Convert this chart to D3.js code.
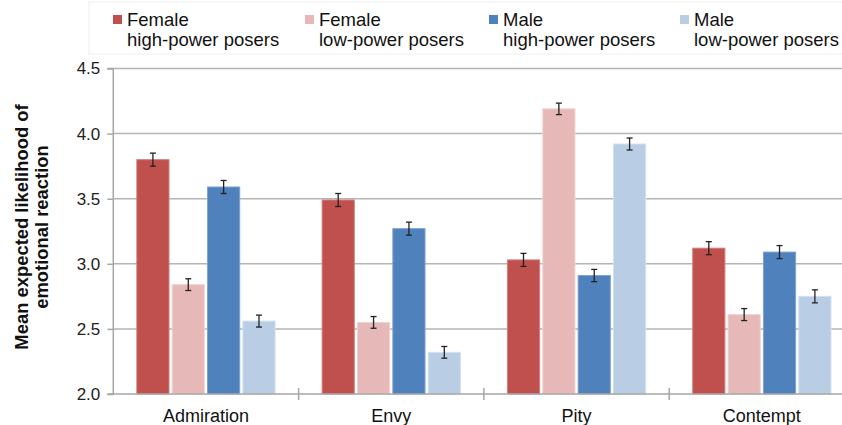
<!DOCTYPE html>
<html>
<head>
<meta charset="utf-8">
<script src="https://cdn.jsdelivr.net/npm/d3@7"></script>
<style>
  html, body { margin: 0; padding: 0; background: #fff; }
  svg { display: block; font-family: "Liberation Sans", Arial, sans-serif; }
</style>
</head>
<body>
<svg id="chart" width="842" height="425"></svg>
<script>
// ---- Data ----
const categories = ["Admiration", "Envy", "Pity", "Contempt"];
const seriesNames = ["Female high-power posers", "Female low-power posers", "Male high-power posers", "Male low-power posers"];
const legendLine1 = ["Female", "Female", "Male", "Male"];
const legendLine2 = ["high-power posers", "low-power posers", "high-power posers", "low-power posers"];
const femaleHigh = [3.80, 3.49, 3.03, 3.12];
const femaleLow  = [2.84, 2.55, 4.19, 2.61];
const maleHigh   = [3.59, 3.27, 2.91, 3.09];
const maleLow    = [2.56, 2.32, 3.92, 2.75];
const femaleHighErr = [0.05, 0.05, 0.05, 0.05];
const femaleLowErr  = [0.045, 0.045, 0.044, 0.046];
const maleHighErr   = [0.05, 0.05, 0.047, 0.05];
const maleLowErr    = [0.046, 0.045, 0.046, 0.05];
const yTicks = [2.0, 2.5, 3.0, 3.5, 4.0, 4.5];
const colors = ["#C0504D", "#E6B9B8", "#4F81BD", "#B9CDE5"];
const strokeColors = ["#d27f7c", "#f0d3d2", "#7ea3cf", "#d3e0ef"];

const values = [femaleHigh, femaleLow, maleHigh, maleLow];
const errors = [femaleHighErr, femaleLowErr, maleHighErr, maleLowErr];

(function () {
// ---- Layout ----
const svg = d3.select("#chart");
const left = 113.3, catW = 185.3;
const plotTop = 68.5, plotBottom = 394;

const x0 = d3.scaleBand().domain(categories).range([left, left + catW * categories.length]).padding(0);
const x1 = d3.scaleBand().domain(d3.range(seriesNames.length)).range([0, x0.bandwidth()])
  .paddingInner(0.09).paddingOuter(0.665);
const y = d3.scaleLinear().domain([2, 4.5]).range([plotBottom, plotTop]);

// gridlines
svg.append("g").selectAll("line").data(yTicks.filter(d => d > 2)).join("line")
  .attr("x1", left).attr("x2", 842)
  .attr("y1", d => y(d)).attr("y2", d => y(d))
  .attr("stroke", "#b5b5b5").attr("stroke-width", 1.5);

// Y axis
const yAxis = d3.axisLeft(y).tickValues(yTicks).tickFormat(d3.format(".1f")).tickSize(6).tickPadding(7);
const gy = svg.append("g").attr("transform", `translate(${left},0)`).call(yAxis);
gy.select(".domain").attr("stroke", "#a6a6a6").attr("stroke-width", 1.5).attr("d", `M-6,${plotTop}H0V${plotBottom}H-6`);
gy.selectAll(".tick line").attr("stroke", "#a6a6a6").attr("stroke-width", 1.5);
gy.selectAll(".tick text").attr("font-size", 17).attr("fill", "#222")
  .attr("font-family", "'Liberation Sans', Arial, sans-serif");

// bars
const groups = svg.append("g").selectAll("g").data(categories).join("g")
  .attr("transform", d => `translate(${x0(d)},0)`);

groups.each(function(cat, ci) {
  const g = d3.select(this);
  seriesNames.forEach((s, si) => {
    const v = values[si][ci];
    g.append("rect")
      .attr("x", x1(si)).attr("width", x1.bandwidth())
      .attr("y", y(v)).attr("height", y(2) - y(v))
      .attr("fill", colors[si]).attr("stroke", strokeColors[si]).attr("stroke-width", 1);
  });
  seriesNames.forEach((s, si) => {
    const v = values[si][ci], e = errors[si][ci];
    const cx = x1(si) + x1.bandwidth() / 2;
    const eg = g.append("g").attr("stroke", "#222").attr("stroke-width", 1.3);
    eg.append("line").attr("x1", cx).attr("x2", cx).attr("y1", y(v + e)).attr("y2", y(v - e));
    eg.append("line").attr("x1", cx - 3).attr("x2", cx + 3).attr("y1", y(v + e)).attr("y2", y(v + e));
    eg.append("line").attr("x1", cx - 3).attr("x2", cx + 3).attr("y1", y(v - e)).attr("y2", y(v - e));
  });
});

// X axis
const xAxis = d3.axisBottom(x0).tickSize(0).tickPadding(15);
const gx = svg.append("g").attr("transform", `translate(0,${plotBottom})`).call(xAxis);
gx.select(".domain").attr("stroke", "#a6a6a6").attr("stroke-width", 1.5).attr("d", `M${left},0H842`);
gx.selectAll(".tick text").attr("font-size", 18).attr("fill", "#111")
  .attr("font-family", "'Liberation Sans', Arial, sans-serif");
// category separators
svg.append("g").selectAll("line").data(categories.slice(1)).join("line")
  .attr("x1", d => x0(d)).attr("x2", d => x0(d))
  .attr("y1", plotBottom - 6).attr("y2", plotBottom + 6)
  .attr("stroke", "#a6a6a6").attr("stroke-width", 1.5);

// Y title
const yt = svg.append("text")
  .attr("transform", "translate(0,227) rotate(-90)")
  .attr("text-anchor", "middle").attr("font-weight", "bold").attr("font-size", 18.4).attr("fill", "#111");
yt.append("tspan").attr("x", 0).attr("y", 28).text("Mean expected likelihood of");
yt.append("tspan").attr("x", 0).attr("y", 48).text("emotional reaction");

// Legend
svg.append("rect").attr("x", 89).attr("y", 2).attr("width", 760).attr("height", 52)
  .attr("fill", "none").attr("stroke", "#efefef").attr("stroke-width", 1);
const legendX = [113, 305, 489, 680];
const lg = svg.append("g").selectAll("g").data(seriesNames).join("g")
  .attr("transform", (d, i) => `translate(${legendX[i]},0)`);
lg.append("rect").attr("x", 0).attr("y", 15).attr("width", 9).attr("height", 9)
  .attr("fill", (d, i) => colors[i]);
lg.append("text").attr("x", 14).attr("y", 26).attr("font-size", 18.5).attr("fill", "#111")
  .text((d, i) => legendLine1[i]);
lg.append("text").attr("x", 14).attr("y", 46).attr("font-size", 18.5).attr("fill", "#111")
  .text((d, i) => legendLine2[i]);
})();
</script>
</body>
</html>
